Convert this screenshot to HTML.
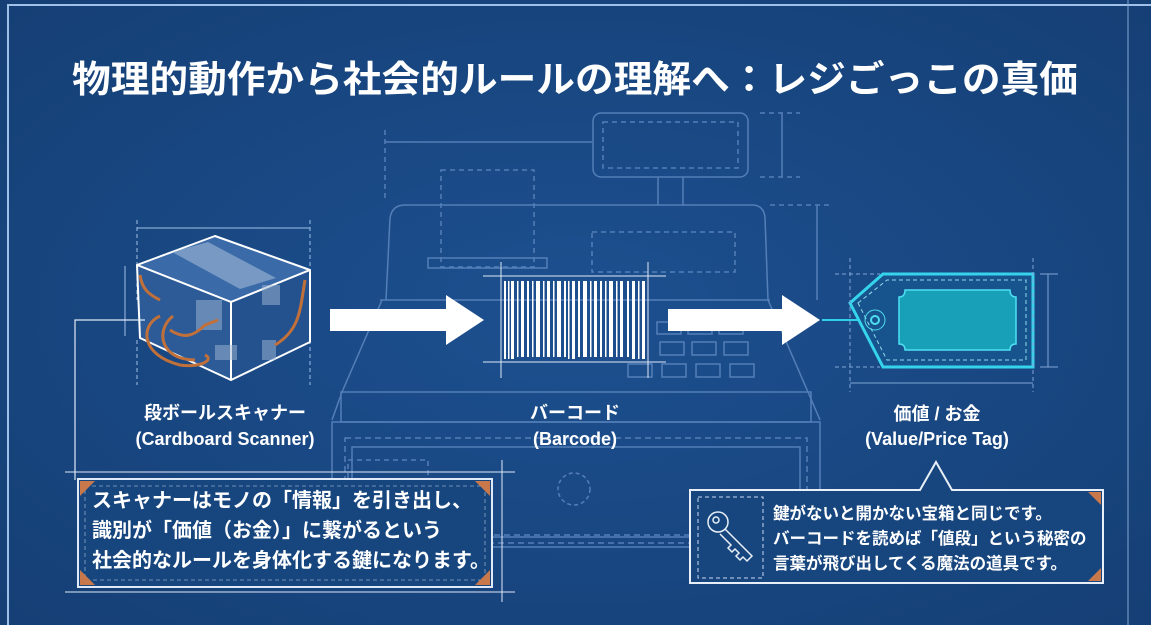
<!DOCTYPE html>
<html><head><meta charset="utf-8"><style>
html,body{margin:0;padding:0;}
body{width:1151px;height:625px;overflow:hidden;background:#18477f;font-family:"Liberation Sans","Noto Sans CJK JP",sans-serif;}
svg{position:absolute;left:0;top:0;}
text{font-family:"Liberation Sans","Noto Sans CJK JP",sans-serif;fill:#fff;}
</style></head><body>
<svg width="1151" height="625" viewBox="0 0 1151 625">
<defs>
<radialGradient id="bg" cx="50%" cy="50%" r="70%"><stop offset="0" stop-color="#1d5090"/><stop offset="1" stop-color="#153f75"/></radialGradient>
</defs>
<rect width="1151" height="625" fill="url(#bg)"/>
<rect x="8" y="5" width="1160" height="640" fill="none" stroke="#9fc0e8" stroke-width="2"/>
<line x1="1128" y1="0" x2="1128" y2="625" stroke="#7fa3d0" stroke-width="1.5" opacity="0.7"/>

<text x="575" y="92" font-size="37" font-weight="bold" text-anchor="middle" textLength="1006" lengthAdjust="spacingAndGlyphs">物理的動作から社会的ルールの理解へ：レジごっこの真価</text>

<!-- cash register -->
<g fill="none" stroke="#5f88c0" stroke-width="1.5" opacity="0.85">
<rect x="593" y="113" width="155" height="64" rx="8"/>
<rect x="603" y="122" width="135" height="46" stroke-dasharray="5 4"/>
<line x1="658" y1="177" x2="658" y2="205"/><line x1="683" y1="177" x2="683" y2="205"/>
<path d="M386 300 L390 218 Q392 205 405 205 L752 205 Q764 205 765 218 L768 300"/>
<path d="M382 300 L342 392 L332 420 M768 300 L808 392 L820 420"/>
<line x1="380" y1="300" x2="770" y2="300"/>
<rect x="341" y="392" width="470" height="30"/>
<rect x="332" y="422" width="488" height="125"/>
<rect x="345" y="438" width="462" height="105" stroke-dasharray="6 4"/>
<rect x="352" y="447" width="448" height="90"/>
<circle cx="574" cy="489" r="16" stroke-dasharray="4 3"/>
<rect x="441" y="170" width="93" height="97" stroke-dasharray="5 4"/>
<rect x="428" y="258" width="119" height="10"/>
<rect x="592" y="232" width="143" height="40" stroke-dasharray="5 4"/>
<line x1="385" y1="142" x2="592" y2="142"/>
<line x1="385" y1="130" x2="385" y2="200" stroke-dasharray="5 4"/>
<line x1="782" y1="113" x2="782" y2="177"/>
<line x1="760" y1="113" x2="800" y2="113" stroke-dasharray="5 4"/>
<line x1="760" y1="177" x2="800" y2="177" stroke-dasharray="5 4"/>
<line x1="817" y1="205" x2="817" y2="300"/>
<line x1="770" y1="205" x2="830" y2="205" stroke-dasharray="5 4"/>
<g>
<rect x="657" y="322" width="24" height="12"/><rect x="688" y="322" width="24" height="12"/><rect x="719" y="322" width="24" height="12"/>
<rect x="660" y="342" width="24" height="13"/><rect x="692" y="342" width="24" height="13"/><rect x="724" y="342" width="24" height="13"/>
<rect x="628" y="364" width="24" height="13"/><rect x="662" y="364" width="24" height="13"/><rect x="696" y="364" width="24" height="13"/><rect x="730" y="364" width="24" height="13"/>
</g>
<rect x="348" y="460" width="80" height="100" stroke-dasharray="5 4"/>
<line x1="484" y1="535" x2="690" y2="535" stroke-dasharray="6 4"/>
</g>

<!-- barcode -->
<g stroke="#dfe9f7" stroke-width="1">
<line x1="483" y1="276" x2="666" y2="276"/><line x1="483" y1="362" x2="666" y2="362"/>
<line x1="501" y1="262" x2="501" y2="378"/><line x1="648" y1="262" x2="648" y2="378"/>
</g>
<g fill="#fff">
<rect x="504" y="281" width="2" height="78"/><rect x="508" y="281" width="1.5" height="78"/><rect x="511" y="281" width="3" height="78"/><rect x="517" y="281" width="1.5" height="76"/><rect x="521" y="281" width="3" height="76"/><rect x="527" y="281" width="2" height="76"/><rect x="532" y="281" width="1.5" height="76"/><rect x="536" y="281" width="4" height="76"/><rect x="543" y="281" width="1.5" height="76"/><rect x="547" y="281" width="3" height="76"/><rect x="553" y="281" width="1.5" height="76"/><rect x="557" y="281" width="4" height="76"/><rect x="564" y="281" width="2" height="76"/><rect x="568" y="281" width="1.5" height="78"/><rect x="572" y="281" width="3" height="78"/><rect x="578" y="281" width="2" height="76"/><rect x="583" y="281" width="4" height="76"/><rect x="590" y="281" width="1.5" height="76"/><rect x="594" y="281" width="3" height="76"/><rect x="600" y="281" width="2" height="76"/><rect x="605" y="281" width="1.5" height="76"/><rect x="609" y="281" width="4" height="76"/><rect x="616" y="281" width="1.5" height="76"/><rect x="620" y="281" width="3" height="76"/><rect x="627" y="281" width="2" height="76"/><rect x="632" y="281" width="3" height="78"/><rect x="638" y="281" width="1.5" height="78"/><rect x="642" y="281" width="3" height="78"/>
</g>

<!-- arrows -->
<path d="M330 309 L446 309 L446 295 L484 320 L446 345 L446 331 L330 331 Z" fill="#fff"/>
<path d="M668 309 L782 309 L782 295 L820 320 L782 345 L782 331 L668 331 Z" fill="#fff"/>

<!-- tag -->
<g fill="none">
<line x1="822" y1="320" x2="875" y2="320" stroke="#2fd0e8" stroke-width="2"/>
<path d="M850 303 L883 274 L1033 274 L1033 367 L883 367 Z" fill="#17548e" stroke="#35d4ec" stroke-width="3"/>
<path d="M858 303 L887 280 L1026 280 L1026 360 L887 360 Z" stroke="#8fdcea" stroke-width="1" stroke-dasharray="4 3"/>
<path d="M905 290 L1010 290 Q1010 297 1016 297 L1016 344 Q1010 344 1010 350 L905 350 Q905 344 899 344 L899 297 Q905 297 905 290 Z" fill="#17a0b8" stroke="#4fe0f2" stroke-width="1.5"/>
<circle cx="875" cy="320" r="10" stroke="#4fdcef" stroke-width="1"/>
<circle cx="875" cy="320" r="4" stroke="#4fdcef" stroke-width="2"/>
<g stroke="#7fa6d6" stroke-width="1">
<line x1="850" y1="383" x2="1033" y2="383"/><line x1="850" y1="258" x2="850" y2="392" stroke-dasharray="4 3"/><line x1="1033" y1="258" x2="1033" y2="392" stroke-dasharray="4 3"/>
<line x1="1048" y1="274" x2="1048" y2="367"/><line x1="1040" y1="274" x2="1058" y2="274"/><line x1="1040" y1="367" x2="1058" y2="367"/>
<line x1="835" y1="274" x2="880" y2="274" stroke-dasharray="4 3"/><line x1="835" y1="367" x2="880" y2="367" stroke-dasharray="4 3"/>
</g>
</g>

<!-- box -->
<g stroke="#9fc0e8" stroke-width="1" fill="none">
<line x1="137" y1="228" x2="310" y2="228"/><line x1="137" y1="220" x2="137" y2="300" stroke-dasharray="4 3"/><line x1="310" y1="220" x2="310" y2="300" stroke-dasharray="4 3"/>
<line x1="125" y1="266" x2="125" y2="336"/>
<line x1="137" y1="340" x2="137" y2="385" stroke-dasharray="4 3"/><line x1="310" y1="340" x2="310" y2="385" stroke-dasharray="4 3"/>
</g>
<g stroke="#fff" stroke-width="2" stroke-linejoin="round">
<path d="M137 265 L215 236 L310 270 L231 302 Z" fill="#3a6aa8"/>
<path d="M137 265 L231 302 L231 380 L140 338 Z" fill="#2c5b98"/>
<path d="M231 302 L310 270 L310 342 L231 380 Z" fill="#24528e"/>
</g>
<path d="M172 252 L208 242 L276 278 L240 289 Z" fill="#a9bfd8" opacity="0.55"/>
<rect x="196" y="300" width="26" height="30" fill="#9fb7d4" opacity="0.5"/>
<rect x="262" y="285" width="18" height="20" fill="#9fb7d4" opacity="0.5"/>
<rect x="215" y="345" width="22" height="15" fill="#9fb7d4" opacity="0.5"/>
<rect x="262" y="340" width="14" height="20" fill="#9fb7d4" opacity="0.5"/>
<g fill="none" stroke="#c2703a" stroke-width="3">
<path d="M160 316 C140 325 140 355 180 365 C200 368 215 360 205 355"/>
<path d="M173 316 C155 330 160 360 195 360"/>
<path d="M170 330 C185 340 195 335 205 325 L218 320"/>
<path d="M305 280 C300 310 300 330 275 345"/>
<path d="M140 275 C142 290 150 295 160 300"/>
</g>

<!-- labels -->
<g font-weight="bold" text-anchor="middle" font-size="18">
<text x="225" y="419">段ボールスキャナー</text>
<text x="225" y="445">(Cardboard Scanner)</text>
<text x="575" y="419">バーコード</text>
<text x="575" y="445">(Barcode)</text>
<text x="937" y="420">価値 / お金</text>
<text x="937" y="445">(Value/Price Tag)</text>
</g>

<!-- left callout -->
<g stroke="#dfe9f7" fill="none">
<polyline points="145,320 75,320 75,480" stroke-width="1.2"/>
<line x1="65" y1="472" x2="515" y2="472" stroke-width="1"/>
<line x1="65" y1="592" x2="515" y2="592" stroke-width="1"/>
<line x1="502" y1="460" x2="502" y2="602" stroke-width="1"/>
<rect x="78" y="479" width="414" height="108" fill="#17467f" stroke-width="2"/>
<rect x="85" y="486" width="400" height="94" stroke-width="0.8" stroke-dasharray="4 3" opacity="0.6"/>
</g>
<path d="M80 481 L95 481 L80 496 Z" fill="#c8784a"/><path d="M490 481 L475 481 L490 496 Z" fill="#c8784a"/>
<path d="M80 585 L95 585 L80 570 Z" fill="#c8784a"/><path d="M490 585 L475 585 L490 570 Z" fill="#c8784a"/>
<g font-size="20" font-weight="bold">
<text x="92" y="507">スキャナーはモノの「情報」を引き出し、</text>
<text x="92" y="537">識別が「価値（お金）」に繋がるという</text>
<text x="92" y="567">社会的なルールを身体化する鍵になります。</text>
</g>

<!-- right callout -->
<path d="M690 490 L920 490 L936 462 L952 490 L1103 490 L1103 583 L690 583 Z" fill="#17467f" stroke="#e8eff8" stroke-width="2"/>
<path d="M1101 492 L1088 492 L1101 505 Z" fill="#c8784a"/><path d="M1101 581 L1088 581 L1101 568 Z" fill="#c8784a"/>
<rect x="698" y="497" width="65" height="81" fill="none" stroke="#c8d8ee" stroke-width="1" stroke-dasharray="4 3"/>
<g fill="none" stroke="#e8eff8" stroke-width="1.5">
<circle cx="718" cy="522" r="10"/><circle cx="716" cy="520" r="3"/>
<path d="M725 529 L752 556 L747 561 L743 557 L740 560 L736 556 L739 553 L735 549 L732 552 L728 548 L731 545 L720 534"/>
</g>
<g font-size="16.5" font-weight="bold">
<text x="773" y="519">鍵がないと開かない宝箱と同じです。</text>
<text x="773" y="544">バーコードを読めば「値段」という秘密の</text>
<text x="773" y="569">言葉が飛び出してくる魔法の道具です。</text>
</g>
</svg>
</body></html>
